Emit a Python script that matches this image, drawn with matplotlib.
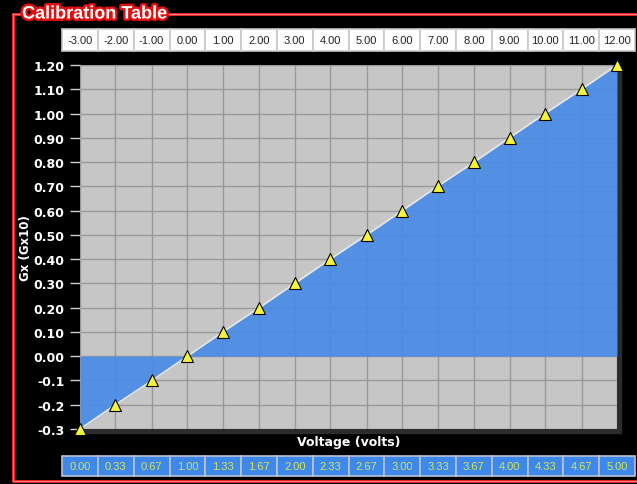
import matplotlib
matplotlib.use("Agg")
import matplotlib.pyplot as plt
import matplotlib.patheffects as pe
from matplotlib.lines import Line2D
from matplotlib.patches import Rectangle

# ---------- data ----------
voltage = [0.00, 0.33, 0.67, 1.00, 1.33, 1.67, 2.00, 2.33,
           2.67, 3.00, 3.33, 3.67, 4.00, 4.33, 4.67, 5.00]
gx = [-0.30, -0.20, -0.10, 0.00, 0.10, 0.20, 0.30, 0.40,
      0.50, 0.60, 0.70, 0.80, 0.90, 1.00, 1.10, 1.20]
gx_x10 = [-3.00, -2.00, -1.00, 0.00, 1.00, 2.00, 3.00, 4.00,
          5.00, 6.00, 7.00, 8.00, 9.00, 10.00, 11.00, 12.00]
y_ticks = [-0.3, -0.2, -0.1, 0.0, 0.1, 0.2, 0.3, 0.4, 0.5, 0.6,
           0.7, 0.8, 0.9, 1.0, 1.1, 1.2]
y_ticklabels = ["-0.3", "-0.2", "-0.1", "0.00", "0.10", "0.20", "0.30",
                "0.40", "0.50", "0.60", "0.70", "0.80", "0.90", "1.00",
                "1.10", "1.20"]

plt.rcParams["font.family"] = ["Liberation Sans", "DejaVu Sans"]
BOLD = ["DejaVu Sans"]

W, H = 637, 485
fig = plt.figure(figsize=(W / 100, H / 100), dpi=100, facecolor="black")

# main plot area in pixel terms: x 80..617, y 66..430
ax = fig.add_axes([80 / W, 1 - 430 / H, 537 / W, 364 / H])
ax.set_facecolor("#c6c6c6")

# drop shadow behind the plot area
fig.patches.append(Rectangle((84 / W, 1 - 434 / H), 537 / W, 364 / H,
                             transform=fig.transFigure, color="#2c2c2c",
                             zorder=-1))

ax.fill_between(voltage, gx, 0, color="#4a8be6", alpha=0.93, lw=0, zorder=2)
ax.plot(voltage, gx, color="#e6e6e6", lw=1.2, zorder=3)
ax.plot(voltage, gx, ls="none", marker="^", ms=8, mfc="#f4f43a",
        mec="black", mew=0.8, zorder=4, clip_on=False)

ax.set_xlim(voltage[0], voltage[-1])
ax.set_ylim(y_ticks[0], y_ticks[-1])
ax.set_xticks(voltage)
ax.set_xticklabels([])
ax.set_yticks(y_ticks)
ax.set_yticklabels(y_ticklabels, fontsize=9, fontweight="bold",
                   color="white", family=BOLD)
ax.tick_params(axis="x", length=0)
ax.tick_params(axis="y", length=7, width=1, color="#d0d0d0", pad=4)
ax.grid(True, color="#999999", lw=1, zorder=1)
ax.set_axisbelow(True)
for s in ax.spines.values():
    s.set_visible(False)

ax.set_xlabel("Voltage (volts)", fontsize=9, fontweight="bold",
              color="white", family=BOLD)
ax.xaxis.set_label_coords(0.5, -0.017)
ax.set_ylabel("Gx (Gx10)", fontsize=8.5, fontweight="bold",
              color="white", family=BOLD)
ax.yaxis.set_label_coords(-0.089, 0.5)

# ---------- tables above and below ----------
cw = 1 / (len(voltage) - 1)
top = ax.table(cellText=[["%.2f" % v for v in gx_x10]],
               bbox=[-cw / 2, (430 - 52) / 364, 1 + cw, 22 / 364],
               cellLoc="center")
bot = ax.table(cellText=[["%.2f" % v for v in voltage]],
               bbox=[-cw / 2, (430 - 477) / 364, 1 + cw, 20 / 364],
               cellLoc="center")
top.auto_set_font_size(False)
bot.auto_set_font_size(False)
for cell in top.get_celld().values():
    cell.set_facecolor("white")
    cell.set_edgecolor("#c8c8c8")
    cell.set_linewidth(1.2)
    cell.get_text().set_fontsize(8)
    cell.get_text().set_color("#222222")
for cell in bot.get_celld().values():
    cell.set_facecolor("#3d88ea")
    cell.set_edgecolor("#b8c4d4")
    cell.set_linewidth(1.2)
    cell.get_text().set_fontsize(8)
    cell.get_text().set_color("#d4e65a")
top.set_clip_on(False)
bot.set_clip_on(False)

# ---------- red frame with title ----------
x0, y0, y1 = 13 / W, 1 - 15 / H, 1 - 482 / H
for col, lw in (("#e4262c", 2.2), ("#ff8a8a", 0.6)):
    fig.add_artist(Line2D([x0, x0, 1.01], [y0, y1, y1], color=col, lw=lw,
                          transform=fig.transFigure))
    fig.add_artist(Line2D([x0, 20 / W], [y0, y0], color=col, lw=lw,
                          transform=fig.transFigure))
    fig.add_artist(Line2D([168 / W, 1.01], [y0, y0], color=col, lw=lw,
                          transform=fig.transFigure))

fig.text(22 / W, y0, "Calibration Table", fontsize=13, fontweight="bold",
         color="white", va="center", ha="left",
         path_effects=[pe.withStroke(linewidth=3.5, foreground="#e01010")])

fig.savefig("out.png", dpi=100, facecolor="black")
